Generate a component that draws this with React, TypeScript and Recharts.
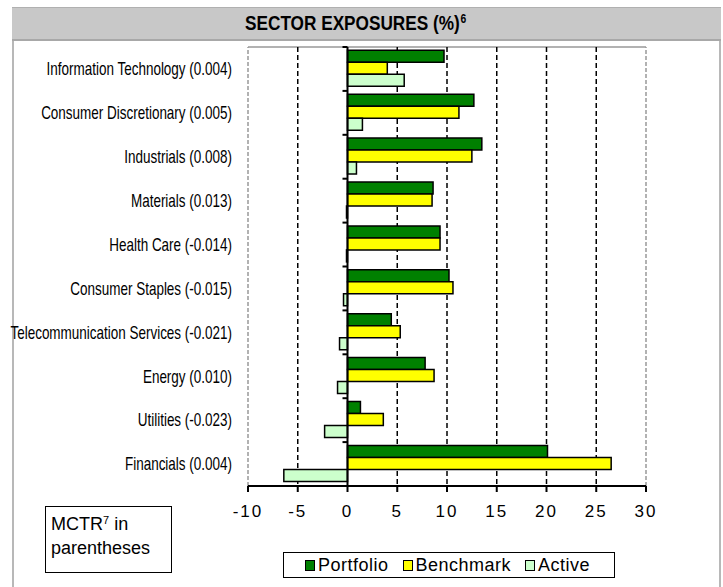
import React from 'react';
import { BarChart, Bar, XAxis, YAxis, CartesianGrid, ReferenceLine } from 'recharts';

const categories = [
  'Information Technology (0.004)',
  'Consumer Discretionary (0.005)',
  'Industrials (0.008)',
  'Materials (0.013)',
  'Health Care (-0.014)',
  'Consumer Staples (-0.015)',
  'Telecommunication Services (-0.021)',
  'Energy (0.010)',
  'Utilities (-0.023)',
  'Financials (0.004)',
];
const portfolio = [9.7, 12.7, 13.5, 8.6, 9.3, 10.2, 4.4, 7.8, 1.3, 20.1];
const benchmark = [4.0, 11.2, 12.5, 8.5, 9.3, 10.6, 5.3, 8.7, 3.6, 26.5];
const active = [5.7, 1.5, 0.9, -0.1, -0.1, -0.4, -0.8, -1.0, -2.3, -6.4];
const xTicks = [-10, -5, 0, 5, 10, 15, 20, 25, 30];
const gridValues = [-5, 5, 10, 15, 20, 25];
const seriesNames = ['Portfolio', 'Benchmark', 'Active'];
const seriesColors = ['#008000', '#ffff00', '#ccffcc'];

const data = categories.map((name, i) => ({
  name,
  Portfolio: portfolio[i],
  Benchmark: benchmark[i],
  Active: active[i],
}));

const W = 723;
const H = 587;
const MARGIN = { top: 47, right: 77, left: 13, bottom: 61 };
const Y_AXIS_WIDTH = 235;
const X_AXIS_HEIGHT = 40;
const X_MIN = -10;
const X_MAX = 30;
const PLOT_LEFT = MARGIN.left + Y_AXIS_WIDTH;
const PLOT_WIDTH = W - PLOT_LEFT - MARGIN.right;
const PLOT_HEIGHT = H - MARGIN.top - MARGIN.bottom - X_AXIS_HEIGHT;

const SANS = "'Liberation Sans', Arial, sans-serif";

function YTick(props: any) {
  const { x, y, payload } = props;
  const zeroX = PLOT_LEFT + ((0 - X_MIN) / (X_MAX - X_MIN)) * PLOT_WIDTH;
  const band = PLOT_HEIGHT / categories.length;
  return (
    <g>
      <text
        transform={`translate(${x},${y}) scale(0.77,1)`}
        x={0}
        y={0}
        dy="0.36em"
        textAnchor="end"
        fontFamily={SANS}
        fontSize={17.5}
        fill="#000"
      >
        {payload.value}
      </text>
      <line x1={zeroX - 5} x2={zeroX} y1={y - band / 2} y2={y - band / 2} stroke="#000" strokeWidth={2} />
    </g>
  );
}

export default function App() {
  return (
    <div style={{ position: 'absolute', left: 0, top: 0, width: W, height: H, background: '#fff', overflow: 'hidden' }}>
      {/* outer frame */}
      <div
        style={{
          position: 'absolute',
          left: 12,
          top: 7,
          width: 709,
          height: 620,
          borderLeft: '2px solid #b8b8b8',
          borderRight: '2px solid #b8b8b8',
          borderTop: '2px solid #b8b8b8',
          boxSizing: 'border-box',
        }}
      />
      <div
        style={{
          position: 'absolute',
          left: 12,
          top: 7,
          width: 709,
          height: 34,
          background: '#c8c8c8',
          borderBottom: '2px solid #a8a8a8',
          borderTop: '1px solid #b0b0b0',
          boxSizing: 'border-box',
        }}
      />
      <div
        style={{
          position: 'absolute',
          left: 0,
          top: 9,
          width: 712,
          textAlign: 'center',
          fontFamily: SANS,
          fontWeight: 'bold',
          fontSize: 20,
          lineHeight: '28px',
          color: '#000',
        }}
      >
        <span style={{ display: 'inline-block', transform: 'scaleX(0.86)', transformOrigin: 'center' }}>
          SECTOR EXPOSURES (%)<span style={{ fontSize: 12, position: 'relative', top: -7, marginLeft: 1 }}>6</span>
        </span>
      </div>

      <div style={{ position: 'absolute', left: 0, top: 0 }}>
        <BarChart
          width={W}
          height={H}
          data={data}
          layout="vertical"
          margin={MARGIN}
          barCategoryGap="7.5%"
          barGap={0}
        >
          <CartesianGrid
            vertical={false}
            horizontal={true}
            horizontalCoordinatesGenerator={(p: any) => [p.offset.top]}
            stroke="#999"
            strokeWidth={1.5}
          />
          <CartesianGrid
            horizontal={false}
            vertical={true}
            verticalValues={gridValues}
            stroke="#000"
            strokeWidth={1.5}
            strokeDasharray="5 3"
          />
          <XAxis
            type="number"
            domain={[X_MIN, X_MAX]}
            ticks={xTicks}
            interval={0}
            height={X_AXIS_HEIGHT}
            axisLine={{ stroke: '#000', strokeWidth: 2 }}
            tickLine={{ stroke: '#000', strokeWidth: 2 }}
            tickSize={6}
            tickMargin={13}
            tick={{ fontFamily: SANS, fontSize: 17, fill: '#000', letterSpacing: 2 }}
          />
          <YAxis
            type="category"
            dataKey="name"
            width={Y_AXIS_WIDTH}
            axisLine={false}
            tickLine={false}
            tickSize={0}
            tickMargin={16}
            interval={0}
            tick={<YTick />}
          />
          {seriesNames.map((s, i) => (
            <Bar
              key={s}
              dataKey={s}
              fill={seriesColors[i]}
              stroke="#000"
              strokeWidth={1.5}
              isAnimationActive={false}
            />
          ))}
          <ReferenceLine x={X_MIN} stroke="#999" strokeWidth={1.5} strokeDasharray="4 2" />
          <ReferenceLine x={X_MAX} stroke="#999" strokeWidth={1.5} strokeDasharray="4 2" />
          <ReferenceLine x={0} stroke="#000" strokeWidth={2} />
        </BarChart>
      </div>

      {/* MCTR note */}
      <div
        style={{
          position: 'absolute',
          left: 45,
          top: 506,
          width: 127,
          height: 67,
          border: '1.5px solid #000',
          boxSizing: 'border-box',
          fontFamily: SANS,
          fontSize: 18,
          lineHeight: '22px',
          padding: '6px 0 0 5px',
          color: '#000',
        }}
      >
        MCTR<span style={{ fontSize: 11, position: 'relative', top: -6 }}>7</span> in
        <br />
        parentheses
      </div>

      {/* legend */}
      <div
        style={{
          position: 'absolute',
          left: 283,
          top: 552,
          width: 332,
          height: 26,
          border: '1.5px solid #000',
          boxSizing: 'border-box',
          display: 'flex',
          alignItems: 'center',
          paddingLeft: 21,
          fontFamily: SANS,
          fontSize: 18,
          color: '#000',
        }}
      >
        {seriesNames.map((s, i) => (
          <div key={s} style={{ display: 'flex', alignItems: 'center', marginRight: i < 2 ? 14 : 0 }}>
            <div
              style={{
                width: 10,
                height: 11,
                background: seriesColors[i],
                border: '1.5px solid #000',
                boxSizing: 'border-box',
                marginRight: 3,
              }}
            />
            <span style={{ letterSpacing: 0.5 }}>{s}</span>
          </div>
        ))}
      </div>
    </div>
  );
}
